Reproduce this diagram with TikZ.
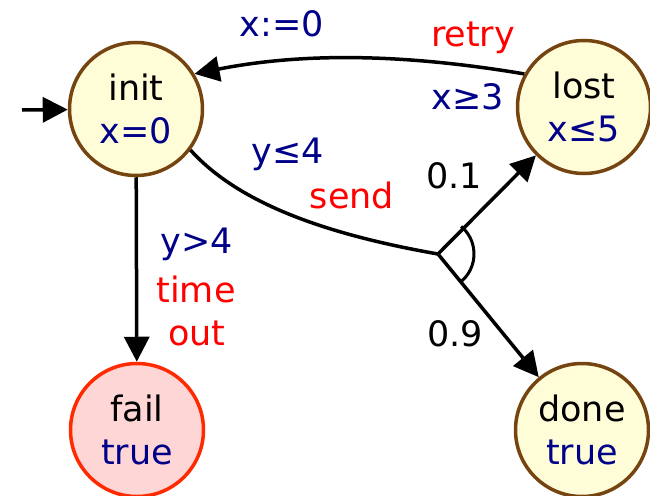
\documentclass[tikz,border=0pt]{standalone}
\usepackage{fontspec}
\setmainfont{DejaVu Sans}
\usetikzlibrary{arrows.meta}
\definecolor{nfill}{HTML}{FFFDD8}
\definecolor{nborder}{HTML}{754410}
\definecolor{ffill}{HTML}{FFD6D6}
\definecolor{fborder}{HTML}{FF2A00}
\definecolor{tblue}{HTML}{000088}
\definecolor{tred}{HTML}{FF0000}
\begin{document}
\begin{tikzpicture}[x=1pt,y=-1pt,
  every node/.style={font=\fontsize{35}{43}\selectfont},
  loc/.style={circle,draw=nborder,fill=nfill,line width=3.5pt,minimum size=133pt,inner sep=0pt,align=center},
  badloc/.style={loc,draw=fborder,fill=ffill},
  conn/.style={line width=3.5pt},
  edge/.style={conn,-{Triangle[length=25pt,width=25pt]}},
  lbl/.style={anchor=base,inner sep=0pt},
  guard/.style={lbl,text=tblue},
  act/.style={lbl,text=tred},
  prob/.style={lbl,text=black}]
\useasboundingbox (0,0) rectangle (650,495);

\node[loc] (init) at (136,109) {init\\\textcolor{tblue}{x=0}};
\node[loc] (lost) at (584,107) {lost\\\textcolor{tblue}{x≤5}};
\node[badloc] (fail) at (137,430) {fail\\\textcolor{tblue}{true}};
\node[loc] (done) at (582,430) {done\\\textcolor{tblue}{true}};

\coordinate (start) at (22,110);
\coordinate (br) at (438,254);

\draw[edge] (start) -- (init);
\draw[edge] (lost.151) .. controls (400,53) and (300,53) .. (init.31);
\draw[conn] (init.-37) .. controls (240,205) and (330,235) .. (br);
\draw[edge] (br) -- (lost);
\draw[edge] (br) -- (done);
\draw[edge] (init) -- (fail);
\draw[line width=3pt] (br) ++(-49:36pt) arc[start angle=-49,end angle=50,radius=36pt];

\node[guard] (l1) at (282,37) {x:=0};
\node[act] (l2) at (473,47) {retry};
\node[guard] (l3) at (468,109) {x≥3};
\node[prob] (l4) at (454,188) {0.1};
\node[guard] (l5) at (288,163) {y≤4};
\node[act] (l6) at (352,208) {send};
\node[guard] (l7) at (197,253) {y>4};
\node[act] (l8) at (196,302) {time};
\node[act] (l9) at (197,345) {out};
\node[prob] (l10) at (455,346) {0.9};
\end{tikzpicture}
\end{document}
